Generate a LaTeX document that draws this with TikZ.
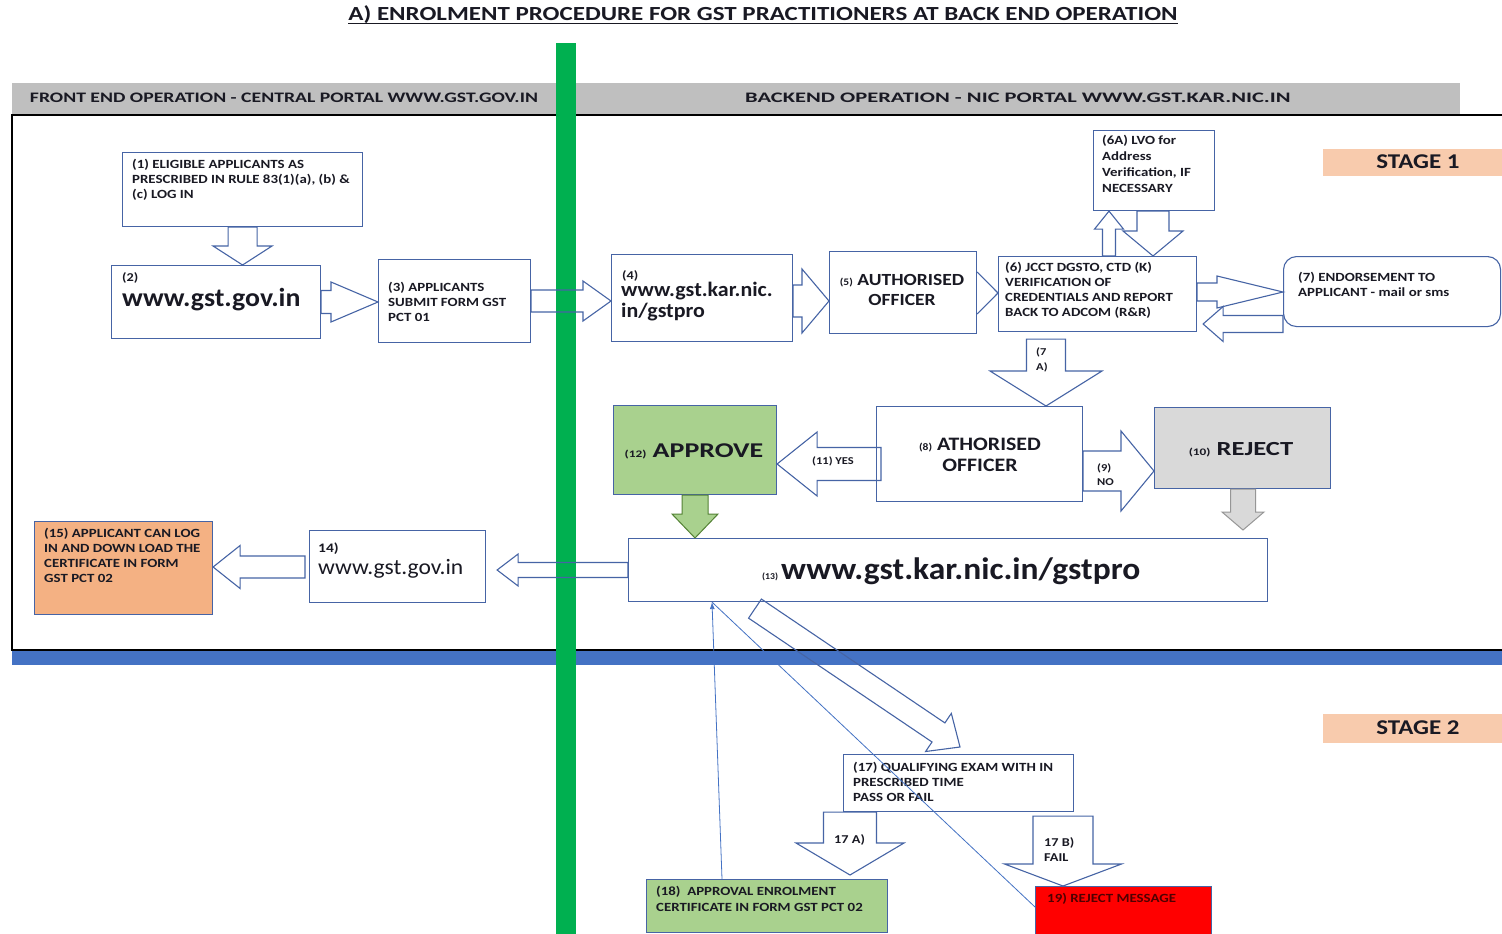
\documentclass[tikz,border=0pt]{standalone}
\usepackage{fontspec}
\setmainfont{Carlito}[FakeStretch=1.19]
\newfontfamily\ttlf{Carlito}[FakeStretch=1.25]
\newfontfamily\hlf{Carlito}[FakeStretch=1.36]
\newfontfamily\hrf{Carlito}[FakeStretch=1.55]
\newfontfamily\midf{Carlito}[FakeStretch=1.15]
\newfontfamily\bigf{Carlito}[FakeStretch=1.33]
\newfontfamily\urlf{Carlito}[FakeStretch=1.07]
\newfontfamily\urlg{Carlito}[FakeStretch=1.08]
\usetikzlibrary{calc,arrows.meta}
\definecolor{bx}{RGB}{70,100,165}
\definecolor{ink}{RGB}{25,25,35}
\definecolor{hdrgray}{RGB}{191,191,191}
\definecolor{gbar}{RGB}{0,176,80}
\definecolor{bbar}{RGB}{68,114,196}
\definecolor{peach}{RGB}{248,203,173}
\definecolor{orgfill}{RGB}{244,177,131}
\definecolor{apg}{RGB}{169,209,142}
\definecolor{apgd}{RGB}{84,130,53}
\definecolor{rjg}{RGB}{217,217,217}
\definecolor{rjgd}{RGB}{150,150,150}
\definecolor{thinb}{RGB}{68,114,196}
\definecolor{rejred}{RGB}{255,0,0}
\definecolor{darkred}{RGB}{80,0,0}
\newcommand\fs[2]{\fontsize{#1}{#2}\selectfont}
\newcommand\bx[6][]{\node[box,minimum width=#5pt-#3pt,minimum height=#6pt-#4pt,#1] (#2) at (#3,#4) {};}
\newcommand\barrow[6][]{%
 \path (#2) coordinate (bS) (#3) coordinate (bE);
 \path ($(bE)!#6!(bS)$) coordinate (bH);
 \draw[#1] ($(bS)!#4!90:(bE)$) -- ($(bH)!#4!-90:(bS)$) -- ($(bH)!#5!-90:(bS)$) -- (bE) -- ($(bH)!#5!90:(bS)$) -- ($(bH)!#4!90:(bS)$) -- ($(bS)!#4!-90:(bE)$) -- cycle;}
\begin{document}
\begin{tikzpicture}[x=1pt,y=-1pt,
  box/.style={draw=bx,line width=1.1pt,fill=white,inner sep=0pt,anchor=north west},
  hol/.style={draw=bx,line width=1.1pt,line join=miter},
  garr/.style={draw=apgd,fill=apg,line width=1pt},
  rarr/.style={draw=rjgd,fill=rjg,line width=1pt},
  tx/.style={inner sep=0pt,text=ink,align=left,anchor=base west,font=\bfseries\fs{12.5}{15}},
  ct/.style={inner sep=0pt,text=ink,align=center,anchor=base},
  hdr/.style={inner sep=0pt,text=ink,anchor=center},
  stg/.style={inner sep=0pt,text=ink,anchor=center,font=\bfseries\fs{21}{24}},
  thin/.style={draw=thinb,line width=0.8pt}]
\useasboundingbox (0,0) rectangle (1502,934);
\fill[white] (0,0) rectangle (1502,934);
% title
\node[inner sep=0pt,anchor=base,text=ink,font=\ttlf\bfseries\fs{20}{24}] (title) at (763,21) {A) ENROLMENT PROCEDURE FOR GST PRACTITIONERS AT BACK END OPERATION};
\draw[ink,line width=1.3pt] ($(title.base west)+(0,2.5)$) -- ($(title.base east)+(0,2.5)$);
% header band, frame, blue band, green bar
\fill[hdrgray] (12,83) rectangle (1460,114);
\draw[black,line width=2pt] (1505,115) -- (12,115) -- (12,650) -- (1505,650);
\fill[bbar] (12,651) rectangle (1505,665);
\fill[gbar] (556,43) rectangle (576,934);
\node[hdr,font=\hlf\bfseries\fs{14.5}{17}] (h1) at (284,98) {FRONT END OPERATION - CENTRAL PORTAL WWW.GST.GOV.IN};
\node[hdr,font=\hrf\bfseries\fs{14.5}{17}] (h2) at (1018,98) {BACKEND OPERATION - NIC PORTAL WWW.GST.KAR.NIC.IN};
% stage labels
\bx[draw=none,fill=peach]{s1}{1322}{148}{1505}{175}
\bx[draw=none,fill=peach]{s2}{1322}{713}{1505}{742}
\node[stg] (ts1) at (1418,162) {STAGE 1};
\node[stg] (ts2) at (1418,728) {STAGE 2};
% boxes
\bx{b1}{122}{152}{362}{226}
\bx{b2}{111}{265}{320}{338}
\bx{b3}{378}{259}{530}{342}
\bx{b4}{611}{254}{792}{341}
\bx{b5}{829}{251}{976}{333}
\bx{b6}{998}{256}{1196}{331}
\bx{b6a}{1093}{130}{1214}{210}
\bx[rounded corners=13pt]{b7}{1283}{256}{1500}{326}
\bx{b8}{876}{406}{1082}{501}
\bx[fill=apg]{b12}{613}{405}{776}{494}
\bx[fill=rjg]{b10}{1154}{407}{1330}{488}
\bx{b13}{628}{538}{1267}{601}
\bx{b14}{309}{530}{485}{602}
\bx[fill=orgfill]{b15}{34}{521}{212}{614}
\bx{b17}{843}{754}{1073}{811}
\bx[fill=apg]{b18}{646}{879}{887}{932}
\bx[fill=rejred]{b19}{1035}{886}{1211}{940}
% texts (multi-line nodes: base = last line)
\node[tx] (t1) at (132,198) {(1) ELIGIBLE APPLICANTS AS\\PRESCRIBED IN RULE 83(1)(a), (b) \&\\(c) LOG IN};
\node[tx,font=\bfseries\fs{12}{14}] (t2a) at (122,281) {(2)};
\node[tx,font=\urlf\bfseries\fs{26}{30}] (t2b) at (122,306) {www.gst.gov.in};
\node[tx] (t3) at (388,321) {(3) APPLICANTS\\SUBMIT FORM GST\\PCT 01};
\node[tx,font=\bfseries\fs{12}{14}] (t4a) at (622,279) {(4)};
\node[tx,font=\urlf\bfseries\fs{20.5}{21}] (t4b) at (621,317) {www.gst.kar.nic.\\in/gstpro};
\node[ct,font=\midf\bfseries\fs{17}{19.5}] (t5) at (902,305) {{\fs{10}{12}(5)} AUTHORISED\\OFFICER};
\node[tx] (t6) at (1005,316) {(6) JCCT DGSTO, CTD (K)\\VERIFICATION OF\\CREDENTIALS AND REPORT\\BACK TO ADCOM (R\&R)};
\node[tx,font=\bfseries\fs{12.5}{16}] (t6a) at (1102,192) {(6A) LVO for\\Address\\Verification, IF\\NECESSARY};
\node[tx] (t7) at (1298,296) {(7) ENDORSEMENT TO\\APPLICANT - mail or sms};
\node[tx,font=\bfseries\fs{10.5}{15}] (t7A) at (1036,370) {(7\\A)};
\node[ct,font=\midf\bfseries\fs{19}{21}] (t8) at (980,471) {{\fs{10}{12}(8)} ATHORISED\\OFFICER};
\node[ct,font=\bigf\bfseries\fs{21}{24}] (t12) at (694,457) {{\fs{10}{12}(12)} APPROVE};
\node[ct,font=\bigf\bfseries\fs{20}{24}] (t10) at (1241,455) {{\fs{10}{12}(10)} REJECT};
\node[ct,font=\bfseries\fs{10.5}{12}] (t11) at (833,464) {(11) YES};
\node[tx,font=\bfseries\fs{10.5}{14}] (t9) at (1097,485) {(9)\\NO};
\node[tx,font=\urlg\bfseries\fs{12.5}{15}] (t13) at (762,579) {{\fs{9}{10}(13)} {\fs{31}{34}www.gst.kar.nic.in/gstpro}};
\node[tx,font=\bfseries\fs{13}{15}] (t14a) at (318,552) {14)};
\node[tx,font=\urlf\mdseries\fs{22}{24}] (t14b) at (318,574) {www.gst.gov.in};
\node[tx] (t15) at (44,582) {(15) APPLICANT CAN LOG\\IN AND DOWN LOAD THE\\CERTIFICATE IN FORM\\GST PCT 02};
\node[tx] (t17) at (853,801) {(17) QUALIFYING EXAM WITH IN\\PRESCRIBED TIME\\PASS OR FAIL};
\node[tx,font=\bfseries\fs{12}{15}] (t17a) at (834,843) {17 A)};
\node[tx,font=\bfseries\fs{12}{15}] (t17b) at (1044,861) {17 B)\\FAIL};
\node[tx,font=\bfseries\fs{12.5}{16}] (t18) at (656,911) {(18)\ \ APPROVAL ENROLMENT\\CERTIFICATE IN FORM GST PCT 02};
\node[tx,text=darkred] (t19) at (1047,902) {19) REJECT MESSAGE};
% block arrows
\barrow[hol]{b1.south}{b1.south |- b2.north}{14.5pt}{29.5pt}{19pt}
\barrow[hol]{b2.east |- 0,302}{b3.west |- 0,302}{11.5pt}{20pt}{47pt}
\barrow[hol]{b3.east |- 0,301}{b4.west |- 0,301}{11pt}{20pt}{28pt}
\barrow[hol]{b4.east |- 0,301}{b5.west |- 0,301}{16pt}{32pt}{27pt}
\draw[hol] (b5.east |- 0,272) -- (b6.west |- 0,293) -- (b5.east |- 0,314);
\barrow[hol]{b6.north -| 1109,0}{b6a.south -| 1109,0}{6.5pt}{14.5pt}{18pt}
\barrow[hol]{b6a.south -| 1153,0}{b6.north -| 1153,0}{16pt}{30pt}{25pt}
\barrow[hol]{b6.east |- 0,292}{b7.west |- 0,292}{9pt}{16pt}{66pt}
\barrow[hol]{b7.west |- 0,324}{$(b6.east |- 0,324)+(6,0)$}{8.5pt}{17.5pt}{20pt}
\barrow[hol]{$(b6.south -| 1046,0)+(0,7)$}{b8.north -| 1046,0}{19.5pt}{56pt}{35pt}
\barrow[hol]{$(b8.west |- 0,464)+(5,0)$}{b12.east |- 0,464}{16.5pt}{32pt}{40pt}
\barrow[hol]{b8.east |- 0,471}{b10.west |- 0,471}{20pt}{40pt}{33pt}
\barrow[garr]{b12.south -| 695,0}{b13.north -| 695,0}{13pt}{23pt}{24pt}
\barrow[rarr]{b10.south -| 1243,0}{$(b13.north -| 1243,0)+(0,-8)$}{12.5pt}{21pt}{18pt}
\barrow[hol]{b13.west |- 0,570}{$(b14.east |- 0,570)+(11,0)$}{7.5pt}{16pt}{21pt}
\barrow[hol]{$(b14.west |- 0,567)+(-4,0)$}{b15.east |- 0,567}{11pt}{21.5pt}{27pt}
\barrow[hol]{$(b13.south west)+(127,6.5)$}{$(b17.north west)+(117,-7)$}{11.5pt}{23pt}{26pt}
\barrow[hol]{b17.south -| 850,0}{$(b18.north -| 850,0)+(0,-4)$}{26.5pt}{54pt}{32pt}
\barrow[hol]{$(b17.south -| 1063,0)+(0,4)$}{b19.north -| 1063,0}{30pt}{58.5pt}{22pt}
% thin connectors
\draw[thin,-{Latex[length=7pt,width=5pt]}] ($(b18.north west)+(76,0)$) -- ($(b13.south west)+(84,0)$);
\draw[thin] ($(b19.north west)+(0,21)$) -- ($(b13.south west)+(84,0)$);
\end{tikzpicture}
\end{document}
